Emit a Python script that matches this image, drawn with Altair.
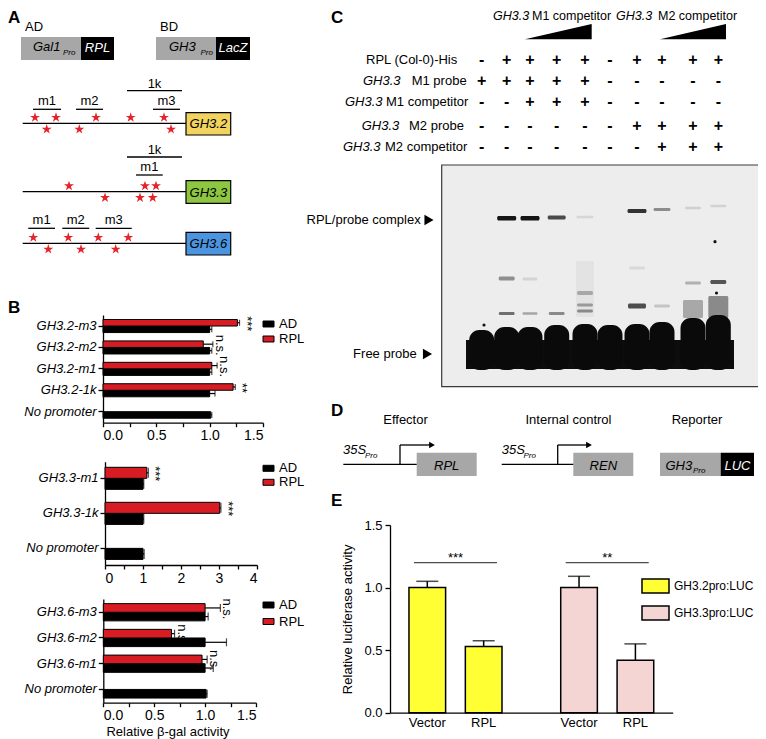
import altair as alt
import pandas as pd

FONT = "Liberation Sans"
M = 8                      # page margin; reference pixel = canvas pixel + M
W, H = 750, 731            # canvas size

RED = "#d71c23"
STAR_RED = "#e4232b"
GRAY = "#a7a7a7"
YELLOW = "#ffff33"
PINK = "#f5d4d4"

# ======================= DATA =======================
# Panel B (yeast one-hybrid, relative beta-gal activity)
b1_promoters = ["GH3.2-m3", "GH3.2-m2", "GH3.2-m1", "GH3.2-1k", "No promoter"]
b1_ad = [1.00, 1.00, 1.00, 1.00, 1.01]
b1_ad_err = [0.02, 0.02, 0.02, 0.05, 0.01]
b1_rpl = [1.26, 0.94, 1.02, 1.22, None]
b1_rpl_err = [0.02, 0.09, 0.05, 0.02, None]
b1_sig = ["***", "n.s.", "n.s.", "**", None]

b2_promoters = ["GH3.3-m1", "GH3.3-1k", "No promoter"]
b2_ad = [1.00, 1.00, 1.00]
b2_ad_err = [0.02, 0.02, 0.03]
b2_rpl = [1.10, 3.02, None]
b2_rpl_err = [0.04, 0.03, None]
b2_sig = ["***", "***", None]

b3_promoters = ["GH3.6-m3", "GH3.6-m2", "GH3.6-m1", "No promoter"]
b3_ad = [1.00, 1.00, 1.00, 1.01]
b3_ad_err = [0.03, 0.21, 0.08, 0.01]
b3_rpl = [1.00, 0.67, 0.97, None]
b3_rpl_err = [0.15, 0.03, 0.05, None]
b3_sig = ["n.s.", "n.s.", "n.s.", None]

b_series = ["AD", "RPL"]

# Panel E (relative luciferase activity)
e_groups = ["GH3.2pro:LUC", "GH3.3pro:LUC"]
e_treatments = ["Vector", "RPL"]
e_values = [1.00, 0.53, 1.00, 0.42]
e_errors = [0.05, 0.045, 0.09, 0.13]
e_sig = ["***", "**"]
e_sig_level = 1.2

# Panel C (EMSA lane table)
c_row_labels = [("", "RPL (Col-0)-His"), ("GH3.3", "M1 probe"), ("GH3.3", "M1 competitor"),
                ("GH3.3", "M2 probe"), ("GH3.3", "M2 competitor")]
c_matrix = ["-++++-++++", "+++++-----", "--+++-----", "------++++", "-------+++"]
c_headers = [("GH3.3", "M1 competitor"), ("GH3.3", "M2 competitor")]

# Panel A (constructs and promoter maps)
a_genes = ["GH3.2", "GH3.3", "GH3.6"]
a_gene_colors = ["#f2d35e", "#8dc641", "#4b95e0"]

# ======================= LAYOUT (reference pixels) =======================
PX = alt.Scale(domain=[M, M + W], nice=False, zero=False)
PY = alt.Scale(domain=[M, M + H], reverse=True, nice=False, zero=False)


def X(f):
    return alt.X(f"{f}:Q", scale=PX, axis=None)


def Y(f):
    return alt.Y(f"{f}:Q", scale=PY, axis=None)


def text_layer(rows, align="left", style="normal", weight="normal", color="black"):
    df = pd.DataFrame(rows, columns=["t", "x", "y", "s"])
    return alt.Chart(df).mark_text(align=align, baseline="middle", font=FONT, fontStyle=style,
                                   fontWeight=weight, color=color).encode(
        x=X("x"), y=Y("y"), text="t:N", size=alt.Size("s:Q", scale=None))


def rect_layer(rows, **mark):
    df = pd.DataFrame(rows, columns=["x", "x2", "y", "y2", "fill"])
    return alt.Chart(df).mark_rect(**mark).encode(
        x=X("x"), x2=alt.X2("x2:Q"), y=Y("y"), y2=alt.Y2("y2:Q"),
        color=alt.Color("fill:N", scale=None))


def line_layer(rows, width=1.3):
    df = pd.DataFrame(rows, columns=["x", "y", "x2", "y2"])
    return alt.Chart(df).mark_rule(color="black", strokeWidth=width).encode(
        x=X("x"), y=Y("y"), x2=alt.X2("x2:Q"), y2=alt.Y2("y2:Q"))


# ---- panel A geometry ----
a_line_y = [123.3, 191.7, 243.3]
a_line_x = (22.7, 186)
a_box_x = (186, 230.7)
a_box_y = [(112.7, 135), (180.7, 203.3), (232.3, 255)]
a_stars_up = [[35, 56, 96, 130.7, 164], [69, 145, 156], [33.3, 68.3, 98.3, 128.3]]
a_stars_dn = [[46.7, 79.3, 171], [105, 140, 152.7], [48.3, 81, 115.7]]
a_segments = [  # label, x1, x2, line y, text y
    ("1k", 127, 182, 90.7, 84), ("m1", 33, 61, 109.3, 101.3), ("m2", 76, 103, 109.3, 101.3),
    ("m3", 153, 180, 109.3, 101.3), ("1k", 127, 182, 157, 150), ("m1", 136, 162.7, 175, 167),
    ("m1", 28.3, 55, 228.3, 220), ("m2", 62.3, 89.3, 228.3, 220), ("m3", 95.7, 131.7, 228.3, 220)]

# ---- panel C geometry ----
c_lane_x = [481.7, 506.7, 530, 556.7, 585, 610, 637, 662, 693, 718.3]
c_row_y = [60, 81, 101.7, 126, 146.7]
c_row_x = [(None, 366), (363, 411.7), (345, 386), (361.7, 409), (343, 385)]
c_header_x = [(493, 532), (616, 658)]
c_header_y = 15.5
gel = (441.7, 761, 165, 386.7)
blob_top = [330, 327, 327, 325, 324, 325, 324, 322, 318, 315]
gel_bands = [  # lane (1-based), y centre, thickness, colour, width
    (5, 289, 56, "#e3e3e3", 18), (9, 309, 18, "#a8a8a8", 20), (10, 307, 22, "#8a8a8a", 20),
    (2, 218.3, 4.5, "#151515", 19), (3, 218.3, 4.5, "#151515", 19), (4, 217.5, 4, "#4a4a4a", 18),
    (5, 217, 2.5, "#d6d6d6", 17), (7, 211, 4, "#333333", 19), (8, 209.5, 3, "#8c8c8c", 17),
    (9, 208, 2.5, "#cfcfcf", 16), (10, 206, 2.5, "#d2d2d2", 16),
    (2, 278.5, 4, "#8f8f8f", 16), (2, 313.5, 3, "#707070", 16), (3, 279, 3, "#d3d3d3", 15),
    (3, 313.5, 2.5, "#a5a5a5", 15), (4, 313.5, 3, "#8a8a8a", 16), (5, 293, 4, "#a8a8a8", 16),
    (5, 305, 3, "#9a9a9a", 16), (5, 311, 3, "#8a8a8a", 16), (7, 306, 5, "#4d4d4d", 18),
    (7, 268, 3, "#d9d9d9", 16), (8, 306, 3, "#c4c4c4", 16), (9, 283, 3, "#b0b0b0", 16),
    (10, 282, 4, "#555555", 16)]

# ======================= DIAGRAM LAYERS (A, C, D) =======================
layers = []

# gel
layers.append(rect_layer([(gel[0], gel[1], gel[2], gel[3], "#ededed")], stroke="#3a3a3a", strokeWidth=1.2))
layers.append(rect_layer([(c_lane_x[b[0] - 1] - b[4] / 2, c_lane_x[b[0] - 1] + b[4] / 2,
                           b[1] - b[2] / 2, b[1] + b[2] / 2, b[3]) for b in gel_bands], cornerRadius=1.5))
layers.append(rect_layer([(466, 734, 340, 369, "#0d0d0d")]))
layers.append(rect_layer([(x - 12.5, x + 12.5, t, 370, "#0a0a0a") for x, t in zip(c_lane_x, blob_top)],
                         cornerRadius=10))
dots = pd.DataFrame({"x": [715, 716.5, 484], "y": [241.7, 293, 325]})
layers.append(alt.Chart(dots).mark_point(shape="circle", filled=True, color="#111", opacity=1, size=10)
              .encode(x=X("x"), y=Y("y")))

# plain boxes (constructs)
layers.append(rect_layer([
    (21, 81, 37, 60, GRAY), (81, 114, 37, 60, "black"), (156, 216, 37, 60, GRAY), (216, 250, 37, 60, "black"),
    (416.7, 476.7, 452.7, 476, GRAY), (573.3, 633.3, 452.7, 476, GRAY),
    (660, 720.7, 452.7, 476, GRAY), (720.7, 754, 452.7, 476, "black")]))
# gene boxes
layers.append(rect_layer([(a_box_x[0], a_box_x[1], y0, y1, c) for (y0, y1), c in zip(a_box_y, a_gene_colors)],
                         stroke="black", strokeWidth=1.2))

# lines
lines = [(a_line_x[0], y, a_line_x[1], y) for y in a_line_y]
lines += [(s[1], s[3], s[2], s[3]) for s in a_segments]
lines += [(343.3, 464.3, 416.7, 464.3), (400, 464.3, 400, 445), (400, 445, 430, 445),
          (501.7, 464.3, 573.3, 464.3), (557.7, 464.3, 557.7, 445), (557.7, 445, 587, 445)]
layers.append(line_layer(lines))

# competitor wedges
wedges = pd.DataFrame({"w": ["m1", "m1", "m2", "m2"], "x": [525, 591.7, 660, 726],
                       "y": [39.3, 24, 39.3, 24], "y2": [39.3] * 4})
layers.append(alt.Chart(wedges).mark_area(color="black", opacity=1).encode(
    x=X("x"), y=Y("y"), y2=alt.Y2("y2:Q"), detail="w:N"))

# stars (binding motifs)
STAR = ("M0,-1L0.2245,-0.309L0.951,-0.309L0.363,0.118L0.588,0.809L0,0.382L-0.588,0.809"
        "L-0.363,0.118L-0.951,-0.309L-0.2245,-0.309Z")
star_rows = []
for ly, ups, dns in zip(a_line_y, a_stars_up, a_stars_dn):
    star_rows += [{"x": x, "y": ly - 5.8} for x in ups]
    star_rows += [{"x": x, "y": ly + 6.0} for x in dns]
layers.append(alt.Chart(pd.DataFrame(star_rows)).mark_point(
    shape=STAR, filled=True, color=STAR_RED, opacity=1, size=110, strokeWidth=0).encode(x=X("x"), y=Y("y")))

# pointers / arrow heads
tri = pd.DataFrame({"x": [429, 427.5, 432, 589], "y": [220, 354, 445, 445], "s": [110, 110, 45, 45]})
layers.append(alt.Chart(tri).mark_point(shape="triangle-right", filled=True, color="black", opacity=1)
              .encode(x=X("x"), y=Y("y"), size=alt.Size("s:Q", scale=None)))

# texts
letters = [("A", 8, 18, 17), ("B", 8, 308, 17), ("C", 331, 18, 17), ("D", 331, 411, 17), ("E", 331, 501, 17)]
layers.append(text_layer(letters, weight="bold"))

normal_left = [("AD", 25, 27, 13), ("BD", 160, 27, 13)]
normal_left += [(hdr[1], xs[1], c_header_y, 12.5) for hdr, xs in zip(c_headers, c_header_x)]
normal_left += [(lab[1], xs[1], y, 13) for lab, xs, y in zip(c_row_labels, c_row_x, c_row_y)]
layers.append(text_layer(normal_left))

normal_center = [(s[0], (s[1] + s[2]) / 2, s[4], 13) for s in a_segments]
normal_center += [("Effector", 405.5, 420, 13), ("Internal control", 568.5, 420, 13), ("Reporter", 697, 420, 13)]
layers.append(text_layer(normal_center, align="center"))

layers.append(text_layer([("RPL/probe complex", 420.7, 220, 13), ("Free probe", 416.7, 354, 13)], align="right"))

signs = []
for r, row in enumerate(c_matrix):
    for l, ch in enumerate(row):
        signs.append((ch, c_lane_x[l], c_row_y[r], 16))
layers.append(text_layer(signs, align="center", weight="bold"))

italic_left = [("Gal1", 33, 46.7, 13), ("GH3", 169, 46.7, 13),
               ("35S", 343, 450, 13), ("35S", 501.7, 450, 13), ("GH3", 665.5, 466, 13)]
italic_left += [(hdr[0], xs[0], c_header_y, 12.5) for hdr, xs in zip(c_headers, c_header_x)]
italic_left += [(lab[0], xs[0], y, 13) for lab, xs, y in zip(c_row_labels, c_row_x, c_row_y) if lab[0]]
italic_left += [("Pro", 63, 53, 8), ("Pro", 200.5, 53, 8), ("Pro", 365, 456, 8), ("Pro", 523.5, 456, 8),
                ("Pro", 693, 470.5, 8)]
layers.append(text_layer(italic_left, style="italic"))

italic_center = [(g, sum(a_box_x) / 2, (y0 + y1) / 2 + 0.5, 13) for g, (y0, y1) in zip(a_genes, a_box_y)]
italic_center += [("RPL", 446.7, 465.5, 13), ("REN", 603.3, 465.5, 13)]
layers.append(text_layer(italic_center, align="center", style="italic"))

layers.append(text_layer([("RPL", 97.5, 47.5, 13), ("LacZ", 233, 47.5, 13), ("LUC", 737.5, 465.5, 13)],
                         align="center", style="italic", color="white"))

diagram = alt.layer(*layers)

# ======================= PANEL B =======================
RECT_B = "M-1,-0.545H1V0.545H-1Z"


def b_panel(promoters, ad, ad_err, rpl, rpl_err, sig, xmax, x_px, y_px, tick_step, label_every,
            pad_inner, pad_outer, cap, leg_xy, leg_rowpad, title=None):
    rows = []
    for i, p in enumerate(promoters):
        rows.append({"promoter": p, "series": "AD", "value": ad[i], "err": ad_err[i], "sig": ""})
        if rpl[i] is not None:
            rows.append({"promoter": p, "series": "RPL", "value": rpl[i], "err": rpl_err[i],
                         "sig": sig[i] or ""})
    df = pd.DataFrame(rows)
    xr = [x_px[0] - M, x_px[1] - M]
    yr = [y_px[0] - M, y_px[1] - M]
    n = int(round(xmax / tick_step))
    values = [round(i * tick_step, 4) for i in range(n + 1)]
    fmt = "'.1f'" if label_every < 1 else "'d'"
    lab = (f"abs(datum.value/{label_every} - round(datum.value/{label_every})) < 0.001 "
           f"? format(datum.value, {fmt}) : ''")
    x_axis_kw = dict(orient="bottom", offset=yr[1] - H, values=values, labelExpr=lab, tickSize=4,
                     labelPadding=2, labelFontSize=14, domainWidth=1.3, tickWidth=1.3, labelOverlap=False,
                     title=title)
    if title:
        x_axis_kw.update(titleFontSize=13, titleFontWeight="normal", titlePadding=3, titleX=159.5)
    x_axis = alt.Axis(**x_axis_kw)
    y_axis = alt.Axis(orient="left", offset=-xr[0], labelFontStyle="italic", labelFontSize=13,
                      tickSize=5, labelPadding=2, domainWidth=1.3, tickWidth=1.3, title=None)
    xs = alt.Scale(domain=[0, xmax], range=xr, nice=False, zero=True)
    y = alt.Y("promoter:N", sort=promoters,
              scale=alt.Scale(domain=promoters, range=yr, paddingInner=pad_inner, paddingOuter=pad_outer),
              axis=y_axis)
    yo = alt.YOffset("series:N", sort=["RPL", "AD"],
                     scale=alt.Scale(domain=["RPL", "AD"], paddingInner=0, paddingOuter=0))
    color = alt.Color("series:N", scale=alt.Scale(domain=b_series, range=["black", RED]),
                      legend=alt.Legend(orient="none", legendX=leg_xy[0] - M, legendY=leg_xy[1] - M,
                                        title=None, symbolType=RECT_B, symbolSize=121,
                                        symbolStrokeColor="black", symbolStrokeWidth=1,
                                        labelFontSize=13, labelOffset=4, rowPadding=leg_rowpad,
                                        padding=0, labelFont=FONT))
    base = alt.Chart(df).transform_calculate(hi="datum.value + datum.err")
    bars = base.mark_bar(stroke="black", strokeWidth=1).encode(
        x=alt.X("value:Q", scale=xs, axis=x_axis), y=y, yOffset=yo, color=color)
    err = base.mark_rule(color="black", strokeWidth=1.2).encode(
        x=alt.X("value:Q", scale=xs, axis=x_axis), x2="hi:Q", y=y, yOffset=yo)
    caps = base.mark_tick(color="black", thickness=1.2, size=cap).encode(
        x=alt.X("hi:Q", scale=xs, axis=x_axis), y=y, yOffset=yo)
    sigt = base.transform_filter("datum.series == 'RPL'").mark_text(
        angle=90, dy=-7, dx=1, align="center", baseline="middle", fontSize=13, font=FONT).encode(
        x=alt.X("hi:Q", scale=xs, axis=x_axis), y=y, yOffset=yo, text="sig:N")
    return alt.layer(bars, err, caps, sigt)


b1 = b_panel(b1_promoters, b1_ad, b1_ad_err, b1_rpl, b1_rpl_err, b1_sig, 1.5, (103, 263), (315, 422.7),
             0.25, 0.5, 0.39, 0.21, 6, (262, 317.5), 1)
b2 = b_panel(b2_promoters, b2_ad, b2_ad_err, b2_rpl, b2_rpl_err, b2_sig, 4, (105, 257), (461.7, 565),
             0.5, 1, 0.37, 0.16, 10, (262, 461.8), 0)
b3 = b_panel(b3_promoters, b3_ad, b3_ad_err, b3_rpl, b3_rpl_err, b3_sig, 1.5, (103.3, 256), (599, 702.7),
             0.25, 0.5, 0.33, 0.18, 8, (262, 598.5), 2.5, title="Relative β-gal activity")

# ======================= PANEL E =======================
RECT_E = "M-1,-0.52H1V0.52H-1Z"
e_rows = []
for gi, g in enumerate(e_groups):
    for ti, t in enumerate(e_treatments):
        k = gi * len(e_treatments) + ti
        e_rows.append({"group": g, "treatment": t, "value": e_values[k], "err": e_errors[k]})
e_df = pd.DataFrame(e_rows)
e_sig_df = pd.DataFrame({"group": e_groups, "sig": e_sig, "level": [e_sig_level] * len(e_groups)})

ex = alt.X("group:N", sort=e_groups,
           scale=alt.Scale(domain=e_groups, range=[390 - M, 672.7 - M], paddingInner=0.387, paddingOuter=0.125),
           axis=alt.Axis(orient="bottom", offset=(712.7 - M) - H, labels=False, ticks=False, title=None,
                         domainWidth=1.3))
exo = alt.XOffset("treatment:N", sort=e_treatments,
                  scale=alt.Scale(domain=e_treatments, paddingInner=0.35, paddingOuter=0))
ey_scale = alt.Scale(domain=[0, 1.5], range=[712.7 - M, 525 - M], nice=False, zero=True)
ey_axis = alt.Axis(orient="left", offset=-(390 - M), values=[0, 0.5, 1.0, 1.5], format=".1f",
                   title="Relative luciferase activity", titleFontSize=13, titleFontWeight="normal",
                   titlePadding=9, labelFontSize=13, tickSize=5, labelPadding=3, domainWidth=1.3,
                   tickWidth=1.3)
ecolor = alt.Color("group:N", scale=alt.Scale(domain=e_groups, range=[YELLOW, PINK]),
                   legend=alt.Legend(orient="none", legendX=641 - M, legendY=571.5 - M, title=None,
                                     symbolType=RECT_E, symbolSize=729, symbolStrokeColor="black",
                                     symbolStrokeWidth=1.5, labelFontSize=12, labelOffset=4, rowPadding=2,
                                     padding=0, labelFont=FONT, labelLimit=0))
e_base = alt.Chart(e_df).transform_calculate(hi="datum.value + datum.err")
e_bars = e_base.mark_bar(stroke="black", strokeWidth=1.5).encode(
    x=ex, xOffset=exo, y=alt.Y("value:Q", scale=ey_scale, axis=ey_axis), color=ecolor)
e_err = e_base.mark_rule(color="black", strokeWidth=1.5).encode(
    x=ex, xOffset=exo, y=alt.Y("value:Q", scale=ey_scale, axis=ey_axis), y2="hi:Q")
e_caps = e_base.mark_tick(color="black", thickness=1.5, size=22, orient="horizontal").encode(
    x=ex, xOffset=exo, y=alt.Y("hi:Q", scale=ey_scale, axis=ey_axis))
e_labels = alt.Chart(e_df).mark_text(font=FONT, fontSize=13, baseline="middle", dy=10).encode(
    x=ex, xOffset=exo, y=alt.Y("zero:Q", scale=ey_scale, axis=ey_axis), text="treatment:N"
).transform_calculate(zero="0")
e_line = alt.Chart(e_sig_df).mark_tick(color="black", thickness=1.3, size=83, orient="horizontal").encode(
    x=ex, y=alt.Y("level:Q", scale=ey_scale, axis=ey_axis))
e_star = alt.Chart(e_sig_df).mark_text(font=FONT, fontSize=13, baseline="alphabetic", dy=-1).encode(
    x=ex, y=alt.Y("level:Q", scale=ey_scale, axis=ey_axis), text="sig:N")
e_panel = alt.layer(e_bars, e_err, e_caps, e_labels, e_line, e_star)

# ======================= COMPOSE =======================
chart = alt.layer(diagram, b1, b2, b3, e_panel).resolve_scale(
    x="independent", y="independent", color="independent", xOffset="independent", yOffset="independent"
).resolve_axis(x="independent", y="independent").resolve_legend(color="independent").properties(
    width=W, height=H, padding=0, autosize=alt.AutoSizeParams(type="none"), background="white"
).configure_view(strokeWidth=0).configure_axis(
    labelFont=FONT, titleFont=FONT, domainColor="black", tickColor="black", labelColor="black",
    titleColor="black", grid=False
).configure_legend(labelColor="black")

chart.save("out.html", embed_options={"renderer": "svg", "actions": False})
